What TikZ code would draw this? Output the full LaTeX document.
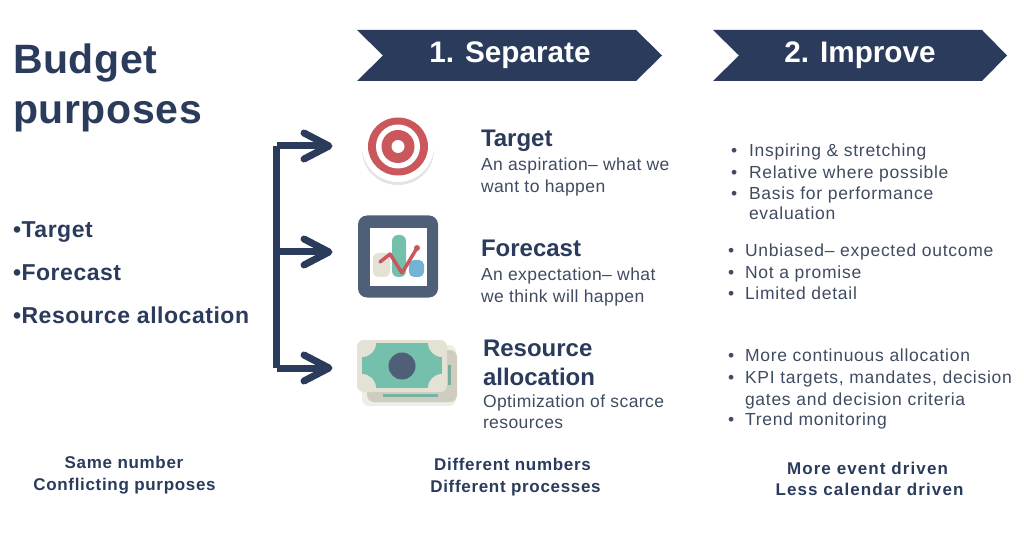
\documentclass[tikz,border=0pt]{standalone}
\usepackage{fontspec}
\setmainfont{Liberation Sans}
\definecolor{navy}{HTML}{2A3B5C}
\definecolor{bodyc}{HTML}{3F4B60}
\definecolor{redc}{HTML}{C9575C}
\definecolor{slatec}{HTML}{4F5F78}
\definecolor{tealc}{HTML}{74C0AC}
\definecolor{creamc}{HTML}{E3E2D5}
\definecolor{shadec}{HTML}{CFCDBF}
\definecolor{bluec}{HTML}{74B3D6}
\tikzset{
 txt/.style={anchor=base west,inner sep=0pt,outer sep=0pt,text=bodyc},
 ctr/.style={anchor=base,inner sep=0pt,outer sep=0pt,text=navy,font=\fontsize{17}{17}\selectfont\bfseries\addfontfeature{LetterSpace=4.0}},
 ctrwide/.style={anchor=base,inner sep=0pt,outer sep=0pt,text=navy,font=\fontsize{17}{17}\selectfont\bfseries\addfontfeature{LetterSpace=6.5}},
 headtxt/.style={txt,text=navy,font=\fontsize{24}{24}\selectfont\bfseries},
 subtxt/.style={txt,font=\fontsize{17.5}{18}\selectfont\addfontfeature{LetterSpace=2.4}},
 ptxt/.style={txt,font=\fontsize{17.5}{18}\selectfont\addfontfeature{LetterSpace=4.2}},
 lefttxt/.style={txt,text=navy,font=\fontsize{23}{23}\selectfont\bfseries\addfontfeature{LetterSpace=2.3}},
 titletxt/.style={txt,text=navy,font=\fontsize{41}{41}\selectfont\bfseries\addfontfeature{LetterSpace=1.5}},
 bannertxt/.style={anchor=base,inner sep=0pt,text=white,font=\fontsize{29.7}{30}\selectfont\bfseries},
 banner/.style={fill=navy,draw=none},
 barline/.style={draw=navy,line width=7pt},
 barb/.style={draw=navy,line width=7pt,line cap=round,line join=round},
}
\begin{document}
\begin{tikzpicture}[x=1pt,y=-1pt]
\useasboundingbox (0,0) rectangle (1024,534);
% banners
\fill[banner] (357,30) -- (636,30) -- (662,55.5) -- (636,81) -- (357,81) -- (383,55.5) -- cycle;
\fill[banner] (713,30) -- (982,30) -- (1007,55.5) -- (982,81) -- (713,81) -- (739,55.5) -- cycle;
\node[bannertxt] (b1) at (510,63) {1. Separate};
\node[bannertxt] (b2) at (860,63) {2. Improve};
% title
\node[titletxt] (t1) at (13,74) {Budget};
\node[titletxt] (t2) at (13,124) {purposes};
\node[lefttxt] (l1) at (13,238) {•Target};
\node[lefttxt] (l2) at (13,280) {•Forecast};
\node[lefttxt] (l3) at (13,323) {•Resource allocation};
% connectors
\coordinate (top) at (276.5,146);
\coordinate (mid) at (276.5,252);
\coordinate (bot) at (276.5,368);
\coordinate (a1) at (329,146);
\coordinate (a2) at (329,252);
\coordinate (a3) at (329,368);
\draw[barline,line cap=square] (top) -- (bot);
\draw[barline] (top) -- (a1);
\draw[barline] (mid) -- (a2);
\draw[barline] (bot) -- (a3);
\draw[barb] ([shift={(-25,-13)}]a1) -- (a1) -- ([shift={(-25,13)}]a1);
\draw[barb] ([shift={(-25,-13)}]a2) -- (a2) -- ([shift={(-25,13)}]a2);
\draw[barb] ([shift={(-25,-13)}]a3) -- (a3) -- ([shift={(-25,13)}]a3);
% target icon
\fill[gray!22] (398,150) ellipse[x radius=36,y radius=35];
\fill[white] (398,146) circle[radius=36];
\fill[redc] (398,146.5) ellipse[x radius=30,y radius=29];
\fill[white] (398,146.5) circle[radius=22];
\fill[redc] (398,146.5) circle[radius=16.5];
\fill[white] (398,146.5) circle[radius=6.5];
% forecast icon
\fill[slatec,rounded corners=9pt] (358,215.5) rectangle (438,297.5);
\fill[white] (370,228) rectangle (427,286);
\fill[creamc,rounded corners=5pt] (373,253) rectangle (390,277);
\fill[tealc,rounded corners=6pt] (392,235) rectangle (406,277);
\fill[bluec,rounded corners=5pt] (409,260) rectangle (424,277);
\draw[redc,line width=3.5pt,line cap=round,line join=round] (380,262) -- (390,254) -- (402,273) -- (417,248);
\fill[redc] (417,248) circle[radius=3];
% money icon
\fill[creamc!60!white,rounded corners=7pt] (362,345) rectangle (456,406);
\fill[shadec,rounded corners=7pt] (367,350) rectangle (457,402);
\begin{scope}
\clip[rounded corners=7pt] (357,340) rectangle (447,392);
\fill[creamc] (357,340) rectangle (447,392);
\fill[tealc] (362,343) rectangle (442,388);
\fill[creamc] (362,343) circle[radius=14];
\fill[creamc] (442,343) circle[radius=14];
\fill[creamc] (362,388) circle[radius=14];
\fill[creamc] (442,388) circle[radius=14];
\end{scope}
\fill[slatec] (402,366) circle[radius=13.5];
\fill[tealc!80!gray] (383,393.5) rectangle (438,397);
\fill[tealc!70!gray] (448,365) rectangle (451,385);
% middle text
\node[headtxt] (h1) at (481,147) {Target};
\node[subtxt] (s1a) at (481,171) {An aspiration– what we};
\node[subtxt] (s1b) at (481,193) {want to happen};
\node[headtxt] (h2) at (481,257) {Forecast};
\node[subtxt] (s2a) at (481,280) {An expectation– what};
\node[subtxt] (s2b) at (481,302) {we think will happen};
\node[headtxt] (h3a) at (483,356) {Resource};
\node[headtxt] (h3b) at (483,385) {allocation};
\node[subtxt] (s3a) at (483,407) {Optimization of scarce};
\node[subtxt] (s3b) at (483,428) {resources};
% right bullets
\node[ptxt] (r1) at (731,157) {•};
\node[ptxt] (r1t) at (749,157) {Inspiring \& stretching};
\node[ptxt] (r2) at (731,179) {•};
\node[ptxt] (r2t) at (749,179) {Relative where possible};
\node[ptxt] (r3) at (731,200) {•};
\node[ptxt] (r3t) at (749,200) {Basis for performance};
\node[ptxt] (r3u) at (749,220) {evaluation};
\node[ptxt] (r4) at (728,257) {•};
\node[ptxt] (r4t) at (745,257) {Unbiased– expected outcome};
\node[ptxt] (r5) at (728,279) {•};
\node[ptxt] (r5t) at (745,279) {Not a promise};
\node[ptxt] (r6) at (728,299) {•};
\node[ptxt] (r6t) at (745,299) {Limited detail};
\node[ptxt] (r7) at (728,361) {•};
\node[ptxt] (r7t) at (745,361) {More continuous allocation};
\node[ptxt] (r8) at (728,383) {•};
\node[ptxt] (r8t) at (745,383) {KPI targets, mandates, decision};
\node[ptxt] (r8u) at (745,405) {gates and decision criteria};
\node[ptxt] (r9) at (728,425) {•};
\node[ptxt] (r9t) at (745,425) {Trend monitoring};
% bottom
\node[ctr] (c1a) at (124,468) {Same number};
\node[ctr] (c1b) at (124.5,490) {Conflicting purposes};
\node[ctr] (c2a) at (512.5,470) {Different numbers};
\node[ctr] (c2b) at (515.5,492) {Different processes};
\node[ctrwide] (c3a) at (867.5,474) {More event driven};
\node[ctrwide] (c3b) at (869.5,495) {Less calendar driven};
\end{tikzpicture}
\end{document}
